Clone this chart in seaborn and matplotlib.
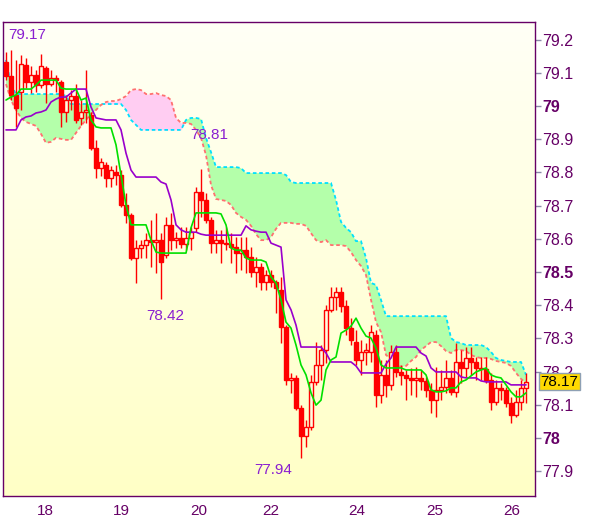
# Ichimoku-style chart: candles, tenkan/kijun and the cloud
import numpy as np
import pandas as pd
import matplotlib
matplotlib.use("Agg")
import matplotlib.pyplot as plt
import seaborn as sns
from matplotlib.colors import LinearSegmentedColormap

# %% data
opens = [79.133, 79.090, 79.033, 79.042, 79.123, 79.072, 79.093, 79.063, 79.114, 79.066,
         79.084, 79.072, 78.982, 79.018, 79.030, 78.964, 78.982, 78.973, 78.873, 78.813,
         78.822, 78.783, 78.801, 78.792, 78.702, 78.672, 78.542, 78.572, 78.581, 78.596,
         78.590, 78.596, 78.551, 78.642, 78.596, 78.602, 78.584, 78.602, 78.633, 78.741,
         78.717, 78.657, 78.587, 78.596, 78.587, 78.584, 78.575, 78.557, 78.566, 78.545,
         78.500, 78.515, 78.470, 78.491, 78.470, 78.446, 78.334, 78.175, 78.181, 78.090,
         78.006, 78.033, 78.169, 78.220, 78.265, 78.386, 78.425, 78.440, 78.398, 78.331,
         78.289, 78.235, 78.259, 78.259, 78.310, 78.130, 78.190, 78.160, 78.259, 78.199,
         78.190, 78.181, 78.175, 78.181, 78.172, 78.145, 78.114, 78.145, 78.154, 78.181,
         78.139, 78.229, 78.211, 78.241, 78.229, 78.211, 78.208, 78.175, 78.108, 78.151,
         78.145, 78.105, 78.069, 78.108, 78.151]
highs = [79.163, 79.17, 79.139, 79.154, 79.145, 79.120, 79.108, 79.157, 79.120, 79.108,
         79.093, 79.078, 79.033, 79.048, 79.066, 79.018, 79.108, 78.982, 78.898, 78.843,
         78.831, 78.819, 78.822, 78.807, 78.738, 78.678, 78.596, 78.596, 78.617, 78.657,
         78.678, 78.617, 78.666, 78.678, 78.620, 78.636, 78.636, 78.636, 78.756, 78.81,
         78.738, 78.666, 78.627, 78.627, 78.636, 78.617, 78.605, 78.605, 78.605, 78.575,
         78.545, 78.527, 78.506, 78.506, 78.476, 78.485, 78.340, 78.196, 78.190, 78.099,
         78.054, 78.190, 78.289, 78.280, 78.401, 78.455, 78.455, 78.455, 78.416, 78.361,
         78.325, 78.295, 78.286, 78.340, 78.325, 78.235, 78.235, 78.280, 78.280, 78.220,
         78.205, 78.211, 78.214, 78.205, 78.184, 78.166, 78.214, 78.205, 78.235, 78.205,
         78.286, 78.265, 78.274, 78.274, 78.244, 78.244, 78.244, 78.196, 78.175, 78.166,
         78.154, 78.124, 78.145, 78.175, 78.196]
lows = [79.078, 79.018, 78.937, 78.988, 79.054, 79.039, 79.042, 79.054, 79.009, 79.060,
        79.042, 78.937, 78.952, 78.988, 78.949, 78.943, 78.949, 78.867, 78.783, 78.789,
        78.756, 78.756, 78.762, 78.696, 78.648, 78.536, 78.467, 78.542, 78.542, 78.515,
        78.497, 78.42, 78.542, 78.566, 78.572, 78.572, 78.566, 78.566, 78.620, 78.666,
        78.648, 78.557, 78.557, 78.527, 78.566, 78.527, 78.497, 78.506, 78.497, 78.485,
        78.455, 78.446, 78.446, 78.455, 78.377, 78.286, 78.160, 78.136, 78.084, 77.94,
        77.973, 78.024, 78.160, 78.175, 78.226, 78.380, 78.386, 78.380, 78.310, 78.280,
        78.220, 78.190, 78.220, 78.229, 78.093, 78.105, 78.124, 78.145, 78.184, 78.160,
        78.114, 78.130, 78.124, 78.145, 78.124, 78.075, 78.063, 78.114, 78.136, 78.130,
        78.124, 78.166, 78.184, 78.190, 78.175, 78.175, 78.166, 78.084, 78.099, 78.114,
        78.093, 78.045, 78.063, 78.084, 78.105]
closes = [79.090, 79.033, 78.994, 79.127, 79.072, 79.093, 79.063, 79.120, 79.066, 79.084,
          79.078, 78.982, 79.018, 79.030, 78.958, 78.982, 78.988, 78.873, 78.813, 78.831,
          78.783, 78.807, 78.792, 78.702, 78.672, 78.542, 78.572, 78.581, 78.596, 78.590,
          78.596, 78.530, 78.642, 78.596, 78.602, 78.584, 78.602, 78.620, 78.741, 78.717,
          78.657, 78.587, 78.596, 78.587, 78.584, 78.575, 78.557, 78.566, 78.545, 78.500,
          78.515, 78.470, 78.491, 78.470, 78.452, 78.334, 78.175, 78.181, 78.090, 78.006,
          78.033, 78.169, 78.220, 78.265, 78.386, 78.425, 78.440, 78.398, 78.331, 78.295,
          78.235, 78.259, 78.265, 78.319, 78.130, 78.190, 78.160, 78.259, 78.199, 78.190,
          78.181, 78.175, 78.181, 78.172, 78.145, 78.114, 78.145, 78.154, 78.181, 78.139,
          78.229, 78.211, 78.241, 78.229, 78.211, 78.208, 78.175, 78.108, 78.151, 78.145,
          78.105, 78.069, 78.108, 78.151, 78.17]

tenkan = [79.018, 79.027, 79.033, 79.051, 79.051, 79.051, 79.063, 79.078, 79.078, 79.078,
          79.078, 79.054, 79.051, 79.051, 79.051, 79.018, 79.024, 78.958, 78.937, 78.934,
          78.934, 78.934, 78.883, 78.792, 78.702, 78.642, 78.642, 78.642, 78.642, 78.596,
          78.560, 78.557, 78.557, 78.557, 78.557, 78.557, 78.557, 78.633, 78.678, 78.678,
          78.678, 78.678, 78.678, 78.675, 78.642, 78.572, 78.566, 78.566, 78.542, 78.536,
          78.536, 78.536, 78.530, 78.485, 78.467, 78.416, 78.349, 78.331, 78.280, 78.220,
          78.190, 78.136, 78.099, 78.114, 78.205, 78.235, 78.244, 78.316, 78.325, 78.337,
          78.361, 78.331, 78.307, 78.301, 78.271, 78.220, 78.211, 78.211, 78.211, 78.211,
          78.205, 78.205, 78.205, 78.205, 78.190, 78.145, 78.139, 78.139, 78.142, 78.151,
          78.151, 78.169, 78.175, 78.187, 78.199, 78.205, 78.211, 78.190, 78.184, 78.181,
          78.160, 78.139, 78.124, 78.124, 78.136]
kijun = [78.928, 78.928, 78.928, 78.958, 78.967, 78.970, 78.979, 78.982, 78.988, 79.012,
         79.021, 79.027, 79.027, 79.039, 79.051, 79.051, 79.051, 78.997, 78.964, 78.961,
         78.958, 78.958, 78.958, 78.928, 78.858, 78.807, 78.786, 78.786, 78.786, 78.786,
         78.786, 78.771, 78.765, 78.717, 78.642, 78.627, 78.620, 78.620, 78.620, 78.614,
         78.611, 78.611, 78.611, 78.611, 78.611, 78.611, 78.611, 78.611, 78.639, 78.627,
         78.623, 78.620, 78.620, 78.587, 78.581, 78.575, 78.416, 78.386, 78.340, 78.274,
         78.274, 78.274, 78.274, 78.274, 78.256, 78.229, 78.229, 78.229, 78.229, 78.229,
         78.217, 78.196, 78.196, 78.196, 78.196, 78.196, 78.223, 78.241, 78.274, 78.274,
         78.274, 78.274, 78.274, 78.256, 78.247, 78.211, 78.199, 78.199, 78.199, 78.199,
         78.199, 78.184, 78.181, 78.181, 78.181, 78.172, 78.169, 78.169, 78.169, 78.169,
         78.169, 78.160, 78.160, 78.160, 78.160]
span_a = [79.139, 79.063, 79.036, 79.036, 79.036, 79.036, 79.036, 79.036, 79.036, 79.036,
          79.036, 79.036, 79.030, 79.006, 79.006, 79.006, 79.006, 79.006, 79.006, 79.006,
          79.006, 79.006, 79.006, 79.006, 78.988, 78.958, 78.943, 78.928, 78.928, 78.928,
          78.928, 78.928, 78.928, 78.928, 78.928, 78.928, 78.958, 78.964, 78.964, 78.961,
          78.904, 78.861, 78.816, 78.816, 78.816, 78.816, 78.816, 78.813, 78.798, 78.798,
          78.798, 78.798, 78.798, 78.798, 78.798, 78.798, 78.792, 78.771, 78.768, 78.768,
          78.768, 78.768, 78.768, 78.768, 78.768, 78.768, 78.717, 78.651, 78.633, 78.620,
          78.593, 78.593, 78.542, 78.467, 78.461, 78.416, 78.367, 78.367, 78.367, 78.367,
          78.367, 78.367, 78.367, 78.367, 78.367, 78.367, 78.367, 78.367, 78.367, 78.301,
          78.289, 78.286, 78.280, 78.280, 78.280, 78.280, 78.274, 78.259, 78.241, 78.235,
          78.232, 78.229, 78.229, 78.229, 78.190]
span_b = [79.066, 79.018, 78.988, 78.964, 78.952, 78.946, 78.940, 78.916, 78.889, 78.892,
          78.904, 78.901, 78.898, 78.898, 78.919, 78.940, 78.958, 78.976, 78.988, 79.003,
          79.012, 79.015, 79.015, 79.021, 79.030, 79.048, 79.051, 79.048, 79.036, 79.036,
          79.039, 79.033, 79.030, 79.018, 78.964, 78.949, 78.949, 78.946, 78.928, 78.904,
          78.852, 78.762, 78.720, 78.717, 78.714, 78.702, 78.678, 78.666, 78.657, 78.639,
          78.614, 78.596, 78.596, 78.605, 78.630, 78.648, 78.648, 78.648, 78.645, 78.645,
          78.639, 78.617, 78.596, 78.590, 78.596, 78.581, 78.581, 78.581, 78.578, 78.560,
          78.536, 78.518, 78.491, 78.416, 78.349, 78.319, 78.250, 78.238, 78.223, 78.214,
          78.217, 78.232, 78.244, 78.265, 78.277, 78.289, 78.289, 78.277, 78.262, 78.256,
          78.265, 78.265, 78.262, 78.250, 78.244, 78.241, 78.241, 78.238, 78.232, 78.229,
          78.226, 78.217, 78.196, 78.178, 78.166]

day_labels = ['18', '19', '20', '22', '24', '25', '26']
marked_highs = [79.17, 78.81]
marked_lows = [78.42, 77.94]

# %%
df = pd.DataFrame({'bar': np.arange(len(closes)), 'open': opens, 'high': highs,
                   'low': lows, 'close': closes, 'tenkan': tenkan, 'kijun': kijun,
                   'span_a': span_a, 'span_b': span_b})

sns.set_style("white")
plt.rcParams['font.family'] = ['Liberation Sans', 'DejaVu Sans']

purple = '#660066'
fig = plt.figure(figsize=(6, 5.19), dpi=100)
ax = fig.add_axes([0.005, 0.0443, 0.8867, 0.9133])

# fond degradé
grad = np.linspace(0, 1, 256).reshape(-1, 1)
bg = LinearSegmentedColormap.from_list('bg', ['#fffff6', '#ffffc6'])
ax.imshow(grad, extent=[0, 1, 0, 1], transform=ax.transAxes, cmap=bg,
          aspect='auto', zorder=0)

# nuage
ax.fill_between(df['bar'], df['span_a'], df['span_b'], where=df['span_a'] >= df['span_b'],
                interpolate=True, color='#b4ffaa', lw=0, zorder=1)
ax.fill_between(df['bar'], df['span_a'], df['span_b'], where=df['span_a'] < df['span_b'],
                interpolate=True, color='#ffcdf2', lw=0, zorder=1)
sns.lineplot(data=df, x='bar', y='span_a', color='#00e0ff', lw=1.3,
             linestyle=(0, (2, 1.5)), ax=ax, zorder=2)
sns.lineplot(data=df, x='bar', y='span_b', color='#ff7070', lw=1.3,
             linestyle=(0, (2, 1.5)), ax=ax, zorder=2)

# bougies
up = df['close'] >= df['open']
ax.vlines(df['bar'], df['low'], df['high'], color='red', lw=1, zorder=4)
dn = df[~up]
ax.bar(dn['bar'], dn['open'] - dn['close'], bottom=dn['close'], width=0.7,
       color='red', edgecolor='red', lw=1, zorder=5)
uu = df[up]
ax.bar(uu['bar'], uu['close'] - uu['open'], bottom=uu['open'], width=0.7,
       facecolor='#fffbe0', edgecolor='red', lw=1, zorder=5)

# tenkan / kijun
sns.lineplot(data=df, x='bar', y='kijun', color='#9900cc', lw=1.2, ax=ax, zorder=6)
sns.lineplot(data=df, x='bar', y='tenkan', color='#00e000', lw=1.2, ax=ax, zorder=6)

# extremes
lab_col = '#8a1fd0'
offs_hi = [(-2.2, 10.8, 'left'), (5.8, 24.5, 'center')]
for v, (dx, dy, ha) in zip(marked_highs, offs_hi):
    i = highs.index(v)
    ax.annotate(f'{v:.2f}', xy=(i, v), xytext=(dx, dy), textcoords='offset points',
                ha=ha, va='center', fontsize=11, color=lab_col, zorder=7)
offs_lo = [(2.9, -12.2), (-20.2, -8.6)]
for v, (dx, dy) in zip(marked_lows, offs_lo):
    i = lows.index(v)
    ax.annotate(f'{v:.2f}', xy=(i, v), xytext=(dx, dy), textcoords='offset points',
                ha='center', va='center', fontsize=11, color=lab_col, zorder=7)

ax.set_xlim(-0.6, 105.8)
ax.set_ylim(77.8253, 79.253)

# axes
for s in ax.spines.values():
    s.set_color(purple)
    s.set_linewidth(1)
ax.yaxis.tick_right()
yt = np.round(np.arange(77.9, 79.25, 0.1), 1)
ax.set_yticks(yt)
ax.set_yticklabels([f'{t:g}' for t in yt])
for t, lab in zip(yt, ax.get_yticklabels()):
    if abs(t * 2 - round(t * 2)) < 1e-6:
        lab.set_fontweight('bold')
ax.tick_params(axis='y', direction='out', length=4, width=1, color='#8a8aa8',
               labelcolor=purple, labelsize=11.5, pad=1)
day_ticks = [7.8, 23.1, 38.6, 53.0, 70.1, 85.7, 101.1]
ax.set_xticks(day_ticks)
ax.set_xticklabels(day_labels)
ax.tick_params(axis='x', direction='out', length=4, width=1, color='#8a8aa8',
               labelcolor=purple, labelsize=11, pad=2)
ax.set_xlabel('')
ax.set_ylabel('')

# dernier prix
last = closes[-1]
ax.annotate(f'{last:.2f}', xy=(1, last), xycoords=('axes fraction', 'data'),
            xytext=(4, 0), textcoords='offset points', ha='left', va='center',
            fontsize=11, color='black', annotation_clip=False, zorder=10,
            bbox=dict(boxstyle='square,pad=0.12', fc='#ffd900', ec='#8ea0b4', lw=1))

fig.savefig('out.png', dpi=100, facecolor='white')
